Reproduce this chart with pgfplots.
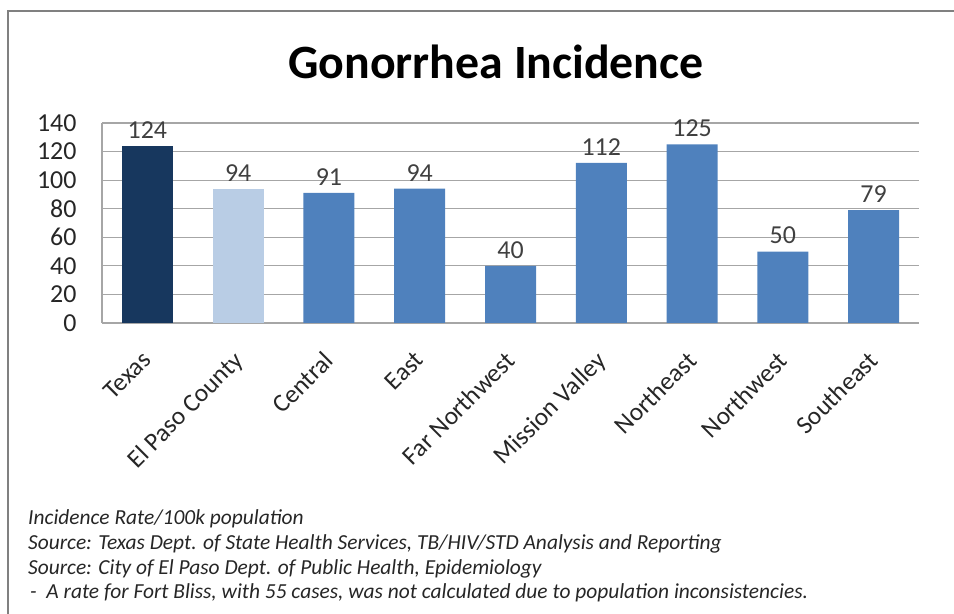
\documentclass[border=0pt]{standalone}
\usepackage{fontspec}
\setmainfont{Carlito}
\usepackage{pgfplots}
\pgfplotsset{compat=1.18}

\definecolor{navy}{HTML}{17375E}
\definecolor{lightblue}{HTML}{B9CDE5}
\definecolor{midblue}{HTML}{4F81BD}
\definecolor{gridgray}{HTML}{A6A6A6}

\begin{document}
\begin{tikzpicture}
\useasboundingbox (0,0) rectangle (954bp,614bp);
% frame (top and left edges only)
\draw[gray, line width=1.5bp] (8bp,0) -- (8bp,603bp) -- (954bp,603bp);

\node[font=\bfseries\fontsize{48}{50}\selectfont] at (496bp,552bp) {Gonorrhea Incidence};

\begin{axis}[
    at={(102bp,291bp)}, anchor=south west,
    scale only axis, width=817bp, height=200bp,
    xmin=-0.5, xmax=8.5, ymin=0, ymax=140,
    ytick={0,20,...,140},
    xtick={0,...,8},
    xticklabels={Texas, El Paso County, Central, East, Far Northwest, Mission Valley, Northeast, Northwest, Southeast},
    axis x line*=bottom, axis y line*=left,
    axis line style={gridgray, line width=1.2bp, -},
    ymajorgrids, grid style={gridgray, line width=1.2bp},
    major tick length=0pt,
    /pgf/number format/assume math mode=true,
    yticklabel style={font=\fontsize{26}{26}\selectfont, text=black!85, xshift=-22bp},
    xticklabel style={font=\fontsize{25.5}{26}\selectfont, text=black!85, rotate=45, anchor=north east, xshift=-20bp, yshift=-11bp},
    ybar, bar width=51bp,
    nodes near coords,
    nodes near coords style={font=\fontsize{26}{26}\selectfont, text=black!75, /pgf/number format/assume math mode=true, yshift=4bp},
]
\addplot[fill=navy, draw=none, bar shift=0pt] coordinates {(0,124)};
\addplot[fill=lightblue, draw=none, bar shift=0pt] coordinates {(1,94)};
\addplot[fill=midblue, draw=none, bar shift=0pt] coordinates {
    (2,91) (3,94) (4,40) (5,112) (6,125) (7,50) (8,79)};
\end{axis}

\begin{scope}[every node/.style={anchor=west, inner sep=0pt, font=\itshape\fontsize{21.5}{24}\selectfont, text=black!85}]
\node at (28bp,95bp) {Incidence Rate/100k population};
\node at (28bp,70bp) {Source: Texas Dept. of State Health Services, TB/HIV/STD Analysis and Reporting};
\node at (28bp,45bp) {Source: City of El Paso Dept. of Public Health, Epidemiology};
\node at (30bp,21bp) {-\ \ A rate for Fort Bliss, with 55 cases, was not calculated due to population inconsistencies.};
\end{scope}
\end{tikzpicture}
\end{document}
